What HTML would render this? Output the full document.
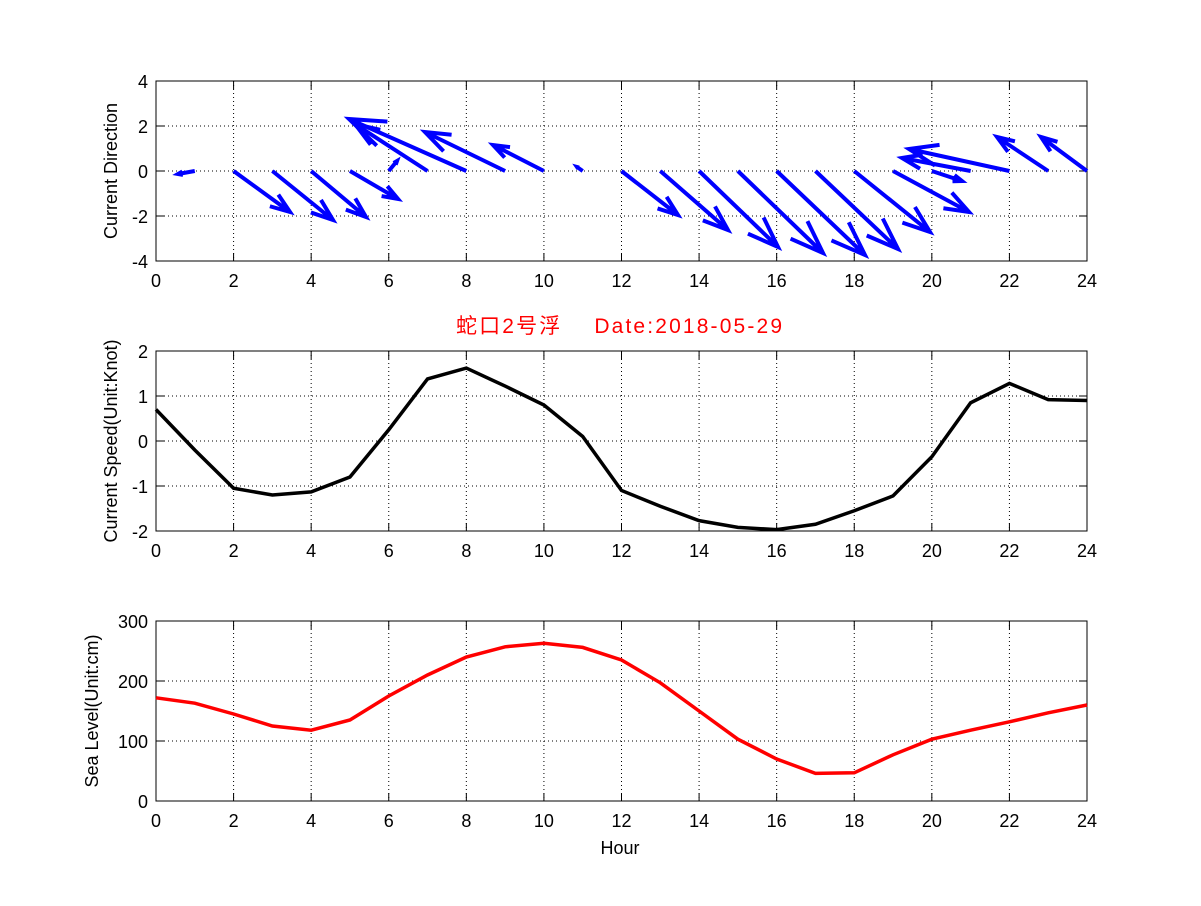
<!DOCTYPE html>
<html><head><meta charset="utf-8"><style>
body{margin:0;background:#fff}
svg text{font-family:"Liberation Sans","Noto Sans CJK SC",sans-serif;font-size:18px}
</style></head><body>
<svg id="s" width="1201" height="901" xmlns="http://www.w3.org/2000/svg">
<rect width="1201" height="901" fill="#fff"/>
<text x="456" y="333" fill="#ff0000" textLength="326" lengthAdjust="spacing" style="font-size:21px;white-space:pre" xml:space="preserve">蛇口2号浮    Date:2018-05-29</text>
<text transform="translate(117,171) rotate(-90)" text-anchor="middle">Current Direction</text>
<text transform="translate(117,441) rotate(-90)" text-anchor="middle">Current Speed(Unit:Knot)</text>
<text transform="translate(98,711) rotate(-90)" text-anchor="middle">Sea Level(Unit:cm)</text>
<text x="620" y="854" text-anchor="middle">Hour</text>
</svg>
<script>
const s=document.getElementById('s'),NS='http://www.w3.org/2000/svg';
function el(t,a,txt){const e=document.createElementNS(NS,t);for(const k in a)e.setAttribute(k,a[k]);if(txt!==undefined)e.textContent=txt;s.appendChild(e);return e;}
const X0=156,X1=1087;const hx=h=>X0+(X1-X0)*h/24;
function axes(top,bot,ymin,ymax,ystep){
  for(let h=0;h<=24;h+=2){const x=hx(h);
    if(h>0&&h<24)el('line',{x1:x,y1:top,x2:x,y2:bot,stroke:'#000','stroke-dasharray':'1,3','stroke-width':1});
    el('line',{x1:x,y1:bot,x2:x,y2:bot-8,stroke:'#000'});el('line',{x1:x,y1:top,x2:x,y2:top+8,stroke:'#000'});
    el('text',{x:x,y:bot+26,'text-anchor':'middle'},h);}
  for(let v=ymin;v<=ymax+1e-9;v+=ystep){const y=bot-(bot-top)*(v-ymin)/(ymax-ymin);
    if(v>ymin&&v<ymax)el('line',{x1:X0,y1:y,x2:X1,y2:y,stroke:'#000','stroke-dasharray':'1,3','stroke-width':1});
    el('line',{x1:X0,y1:y,x2:X0+8,y2:y,stroke:'#000'});el('line',{x1:X1,y1:y,x2:X1-8,y2:y,stroke:'#000'});
    el('text',{x:X0-8,y:y+7,'text-anchor':'end'},v);}
  el('rect',{x:X0,y:top,width:X1-X0,height:bot-top,fill:'none',stroke:'#000'});
}
axes(81,261,-4,4,2);axes(351,531,-2,2,1);axes(621,801,0,300,100);
const A=[[1,178,174],[2,290,212],[3,333,220],[4,366,217],[5,398,199],[6,397,161],[7,355,124],[8,349,119],[9,425,132],[10,493,145],[11,577,167],
[12,678,215],[13,728,230],[14,778,247],[15,823,253],[16,865,255],[17,898,249],[18,930,232],[19,969,212],[20,962,181],[21,902,158],[22,909,149],[23,997,137],[24,1041,137]];
A.forEach(([h,ex,ey])=>{const sx=hx(h),sy=171;const dx=ex-sx,dy=ey-sy,L=Math.hypot(dx,dy);
  const ux=dx/L,uy=dy/L,b=L*0.3,a=0.35;
  const b1x=ex-b*(ux*Math.cos(a)-uy*Math.sin(a)),b1y=ey-b*(uy*Math.cos(a)+ux*Math.sin(a));
  const b2x=ex-b*(ux*Math.cos(a)+uy*Math.sin(a)),b2y=ey-b*(uy*Math.cos(a)-ux*Math.sin(a));
  el('path',{d:`M${sx},${sy}L${ex},${ey}M${b1x},${b1y}L${ex},${ey}L${b2x},${b2y}`,stroke:'#0000ff','stroke-width':4,fill:'none','stroke-linejoin':'miter'});});
function line(data,top,bot,ymin,ymax,col){el('polyline',{points:data.map((v,i)=>hx(i)+','+(bot-(bot-top)*(v-ymin)/(ymax-ymin))).join(' '),fill:'none',stroke:col,'stroke-width':3.5});}
line([0.7,-0.2,-1.05,-1.2,-1.13,-0.8,0.25,1.38,1.62,1.22,0.8,0.1,-1.1,-1.45,-1.77,-1.92,-1.97,-1.85,-1.55,-1.22,-0.35,0.85,1.28,0.92,0.9],351,531,-2,2,'#000');
line([172,163,145,125,118,135,175,210,240,257,263,256,235,197,150,103,70,46,47,77,103,118,132,147,160],621,801,0,300,'#ff0000');
</script>
</body></html>
